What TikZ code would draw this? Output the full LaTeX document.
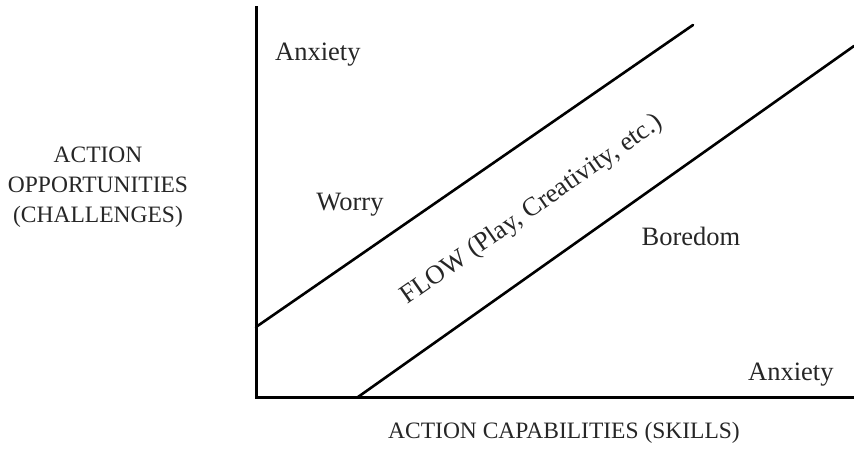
\documentclass[tikz,border=0pt]{standalone}
\usepackage{fontspec}
\setmainfont{Liberation Serif}
\begin{document}
\begin{tikzpicture}[x=1pt,y=-1pt,
  axis/.style={line width=3pt,line cap=rect},
  band/.style={line width=2.6pt,line cap=round},
  lbl/.style={inner sep=0pt,font=\fontsize{26.5}{30}\selectfont,text=black!85},
  caplbl/.style={inner sep=0pt,font=\fontsize{23.5}{29.6}\selectfont,text=black!85,align=center}]
\useasboundingbox (0,0) rectangle (854,452);
\coordinate (ytop) at (256,8);
\coordinate (origin) at (256,397);
\coordinate (xend) at (854,397);
\coordinate (u1) at (256,327);
\coordinate (u2) at (693,25);
\coordinate (l1) at (358,397);
\coordinate (l2) at (854,46);
\draw[axis] (ytop) -- (origin) -- (xend);
\draw[band] (u1) -- (u2);
\draw[band] (l1) -- (l2);
\node[lbl,anchor=base west] (anx1) at (275,61) {Anxiety};
\node[lbl,anchor=base] (worry) at (350,210) {Worry};
\node[lbl,anchor=base] (bored) at (691,245) {Boredom};
\node[lbl,anchor=base west] (anx2) at (748,380) {Anxiety};
\node[lbl,rotate=34.9] (flow) at (532,210) {FLOW (Play, Creativity, etc.)};
\node[caplbl,anchor=base] (ylab) at (98,222) {ACTION\\OPPORTUNITIES\\(CHALLENGES)};
\node[caplbl,anchor=base] (xlab) at (564,438) {ACTION CAPABILITIES (SKILLS)};
\end{tikzpicture}
\end{document}
